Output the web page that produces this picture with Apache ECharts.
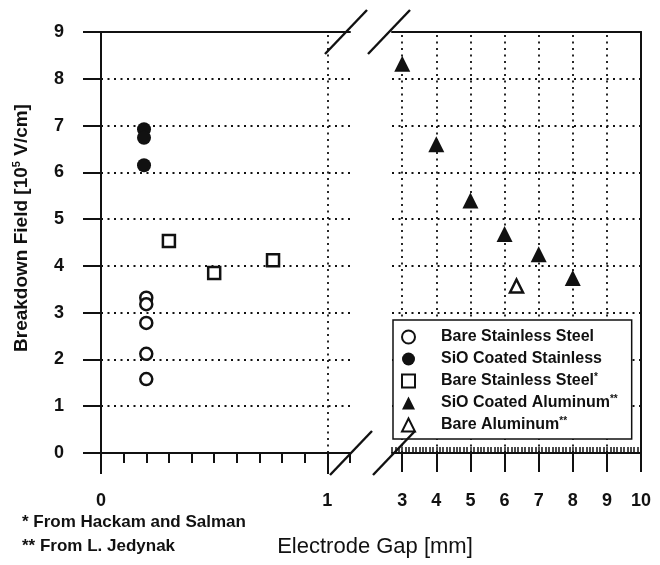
<!DOCTYPE html>
<html><head><meta charset="utf-8">
<script src="https://cdn.jsdelivr.net/npm/echarts@6/dist/echarts.min.js"></script>
<style>html,body{margin:0;padding:0;background:#fff}#c{width:660px;height:565px}</style>
</head><body><div id="c"></div>
<script>
const FONT = '"Liberation Sans", Arial, Helvetica, sans-serif';
const INK = '#111';

// ---- data ----
const bareSSX = [0.2, 0.2, 0.2, 0.2, 0.2];
const bareSSY = [3.32, 3.18, 2.78, 2.12, 1.58];
const sioSSX = [0.19, 0.19, 0.19];
const sioSSY = [6.92, 6.74, 6.15];
const bareSSHX = [0.30, 0.50, 0.76];
const bareSSHY = [4.53, 3.85, 4.12];
const sioAlX = [3, 4, 5, 6, 7, 8];
const sioAlY = [8.32, 6.6, 5.4, 4.68, 4.25, 3.74];
const bareAlX = [6.35];
const bareAlY = [3.57];

const seriesNames = ['Bare Stainless Steel', 'SiO Coated Stainless', 'Bare Stainless Steel*', 'SiO Coated Aluminum**', 'Bare Aluminum**'];
const leftXLabels = [0, 1];
const leftLongTicks = [0, 1];
const rightXLabels = [3, 4, 5, 6, 7, 8, 9, 10];
const leftVGrid = [1];
const rightVGrid = [3, 4, 5, 6, 7, 8, 9];
const yTitle = ['Breakdown Field [10', '5', ' V/cm]'];
const xTitle = 'Electrode Gap [mm]';
const footnotes = ['* From Hackam and Salman', '** From L. Jedynak'];

const zip = (xs, ys) => xs.map((x, i) => [x, ys[i]]);
const dotted = { type: [2, 4.5], color: INK, width: 1.8 };
const near = (v, list) => list.some(t => Math.abs(v - t) < 1e-6);

const chart = echarts.init(document.getElementById('c'), null, { renderer: 'canvas' });

const tickLabel = { color: INK, fontFamily: FONT, fontWeight: 'bold', fontSize: 18 };

const option = {
  animation: false,
  backgroundColor: '#fff',
  grid: [
    { left: 101, top: 32, width: 249, height: 421 },
    { left: 392, top: 32, width: 249, height: 421 }
  ],
  xAxis: [
    { gridIndex: 0, type: 'value', position: 'bottom', min: 0, max: 1.1, interval: 0.1,
      axisLine: { onZero: false, lineStyle: { color: INK, width: 2 } },
      axisTick: { inside: false, length: 10, lineStyle: { color: INK, width: 2 } },
      axisLabel: Object.assign({ margin: 39, formatter: v => near(v, leftXLabels) ? String(Math.round(v)) : '' }, tickLabel),
      splitLine: { show: false } },
    { gridIndex: 0, type: 'value', position: 'bottom', min: 0, max: 1.1,
      axisLine: { show: false },
      axisTick: { show: true, length: 21, customValues: leftLongTicks, lineStyle: { color: INK, width: 2 } },
      axisLabel: { show: false }, splitLine: { show: false } },
    { gridIndex: 0, type: 'value', position: 'top', min: 0, max: 1.1,
      axisLine: { onZero: false, lineStyle: { color: INK, width: 2 } },
      axisTick: { show: false }, axisLabel: { show: false }, splitLine: { show: false } },
    { gridIndex: 1, type: 'value', position: 'bottom', min: 2.7, max: 10, interval: 0.1,
      axisLine: { onZero: false, lineStyle: { color: INK, width: 2 } },
      axisTick: { inside: true, length: 6, lineStyle: { color: INK, width: 1.5 } },
      axisLabel: Object.assign({ margin: 39, formatter: v => near(v, rightXLabels) ? String(Math.round(v)) : '' }, tickLabel),
      splitLine: { show: false } },
    { gridIndex: 1, type: 'value', position: 'bottom', min: 2.7, max: 10,
      axisLine: { show: false },
      axisTick: { show: true, length: 19, customValues: rightXLabels, lineStyle: { color: INK, width: 2 } },
      axisLabel: { show: false }, splitLine: { show: false } },
    { gridIndex: 1, type: 'value', position: 'top', min: 2.7, max: 10,
      axisLine: { onZero: false, lineStyle: { color: INK, width: 2 } },
      axisTick: { show: false }, axisLabel: { show: false }, splitLine: { show: false } }
  ],
  yAxis: [
    { gridIndex: 0, type: 'value', position: 'left', min: 0, max: 9, interval: 1,
      axisLine: { onZero: false, lineStyle: { color: INK, width: 2 } },
      axisTick: { inside: false, length: 18, lineStyle: { color: INK, width: 2 } },
      axisLabel: Object.assign({ margin: 37 }, tickLabel),
      splitLine: { show: true, lineStyle: dotted } },
    { gridIndex: 1, type: 'value', position: 'right', min: 0, max: 9, interval: 1,
      axisLine: { onZero: false, lineStyle: { color: INK, width: 2 } },
      axisTick: { show: false }, axisLabel: { show: false },
      splitLine: { show: true, lineStyle: dotted } }
  ],
  legend: {
    left: 393, top: 320, orient: 'vertical',
    data: seriesNames,
    backgroundColor: '#fff', borderColor: INK, borderWidth: 1.5,
    padding: [8, 14, 5, 8], itemGap: 4, itemWidth: 13, itemHeight: 13,
    selectedMode: false,
    formatter: name => {
      const m = name.match(/^(.*?)(\**)$/);
      return '{p|}{t|' + m[1] + '}' + (m[2] ? '{s|' + m[2] + '}' : '');
    },
    textStyle: {
      color: INK, fontFamily: FONT, fontWeight: 'bold', fontSize: 16, lineHeight: 18,
      rich: {
        p: { width: 21 },
        t: { color: INK, fontFamily: FONT, fontWeight: 'bold', fontSize: 16, lineHeight: 18 },
        s: { color: INK, fontFamily: FONT, fontWeight: 'bold', fontSize: 10, lineHeight: 10, verticalAlign: 'top' }
      }
    },
    z: 10
  },
  series: [
    { name: seriesNames[0], type: 'scatter', xAxisIndex: 0, yAxisIndex: 0, symbol: 'circle', symbolSize: 12,
      itemStyle: { color: '#fff', borderColor: INK, borderWidth: 2.5, opacity: 1 },
      data: zip(bareSSX, bareSSY), z: 5,
      markLine: { silent: true, symbol: ['none', 'none'], label: { show: false }, lineStyle: dotted,
        data: leftVGrid.map(v => ({ xAxis: v })), z: 1 } },
    { name: seriesNames[1], type: 'scatter', xAxisIndex: 0, yAxisIndex: 0, symbol: 'circle', symbolSize: 14,
      itemStyle: { color: INK, opacity: 1 }, data: zip(sioSSX, sioSSY), z: 5 },
    { name: seriesNames[2], type: 'scatter', xAxisIndex: 0, yAxisIndex: 0, symbol: 'rect', symbolSize: 12,
      itemStyle: { color: '#fff', borderColor: INK, borderWidth: 2.5, opacity: 1 },
      data: zip(bareSSHX, bareSSHY), z: 5 },
    { name: seriesNames[3], type: 'scatter', xAxisIndex: 3, yAxisIndex: 1, symbol: 'triangle', symbolSize: 16,
      itemStyle: { color: INK, opacity: 1 }, data: zip(sioAlX, sioAlY), z: 5,
      markLine: { silent: true, symbol: ['none', 'none'], label: { show: false }, lineStyle: dotted,
        data: rightVGrid.map(v => ({ xAxis: v })), z: 1 } },
    { name: seriesNames[4], type: 'scatter', xAxisIndex: 3, yAxisIndex: 1, symbol: 'triangle', symbolSize: 13,
      itemStyle: { color: '#fff', borderColor: INK, borderWidth: 2.5, opacity: 1 },
      data: zip(bareAlX, bareAlY), z: 5 }
  ]
};
chart.setOption(option);

// axis-break slashes and texts, positioned from the grids
const pL_top = chart.convertToPixel({ xAxisIndex: 0, yAxisIndex: 0 }, [1.1, 9]);
const pL_bot = chart.convertToPixel({ xAxisIndex: 0, yAxisIndex: 0 }, [1.1, 0]);
const pR_top = chart.convertToPixel({ xAxisIndex: 3, yAxisIndex: 1 }, [2.7, 9]);
const pR_bot = chart.convertToPixel({ xAxisIndex: 3, yAxisIndex: 1 }, [2.7, 0]);
const slash = (c, dx0) => ({ type: 'line', z: 20,
  shape: { x1: c[0] + dx0 - 21, y1: c[1] + 22, x2: c[0] + dx0 + 21, y2: c[1] - 22 },
  style: { stroke: INK, lineWidth: 2.4 } });
chart.setOption({
  graphic: [
    slash(pL_top, -4), slash(pR_top, -3), slash(pL_bot, 1), slash(pR_bot, 2),
    { type: 'text', x: 22, y: 228, rotation: Math.PI / 2, z: 20,
      style: { text: '{a|' + yTitle[0] + '}{s|' + yTitle[1] + '}{a|' + yTitle[2] + '}', align: 'center', verticalAlign: 'middle',
        rich: {
          a: { fill: INK, fontFamily: FONT, fontWeight: 'bold', fontSize: 19, lineHeight: 22 },
          s: { fill: INK, fontFamily: FONT, fontWeight: 'bold', fontSize: 11, lineHeight: 11, verticalAlign: 'top' }
        } } },
    { type: 'text', x: 375, y: 547, z: 20,
      style: { text: xTitle, align: 'center', verticalAlign: 'middle', fill: INK, fontFamily: FONT, fontSize: 22 } },
    { type: 'text', x: 22, y: 522, z: 20,
      style: { text: footnotes[0], align: 'left', verticalAlign: 'middle', fill: INK, fontFamily: FONT, fontWeight: 'bold', fontSize: 17 } },
    { type: 'text', x: 22, y: 546, z: 20,
      style: { text: footnotes[1], align: 'left', verticalAlign: 'middle', fill: INK, fontFamily: FONT, fontWeight: 'bold', fontSize: 17 } }
  ]
});
</script>
</body></html>
